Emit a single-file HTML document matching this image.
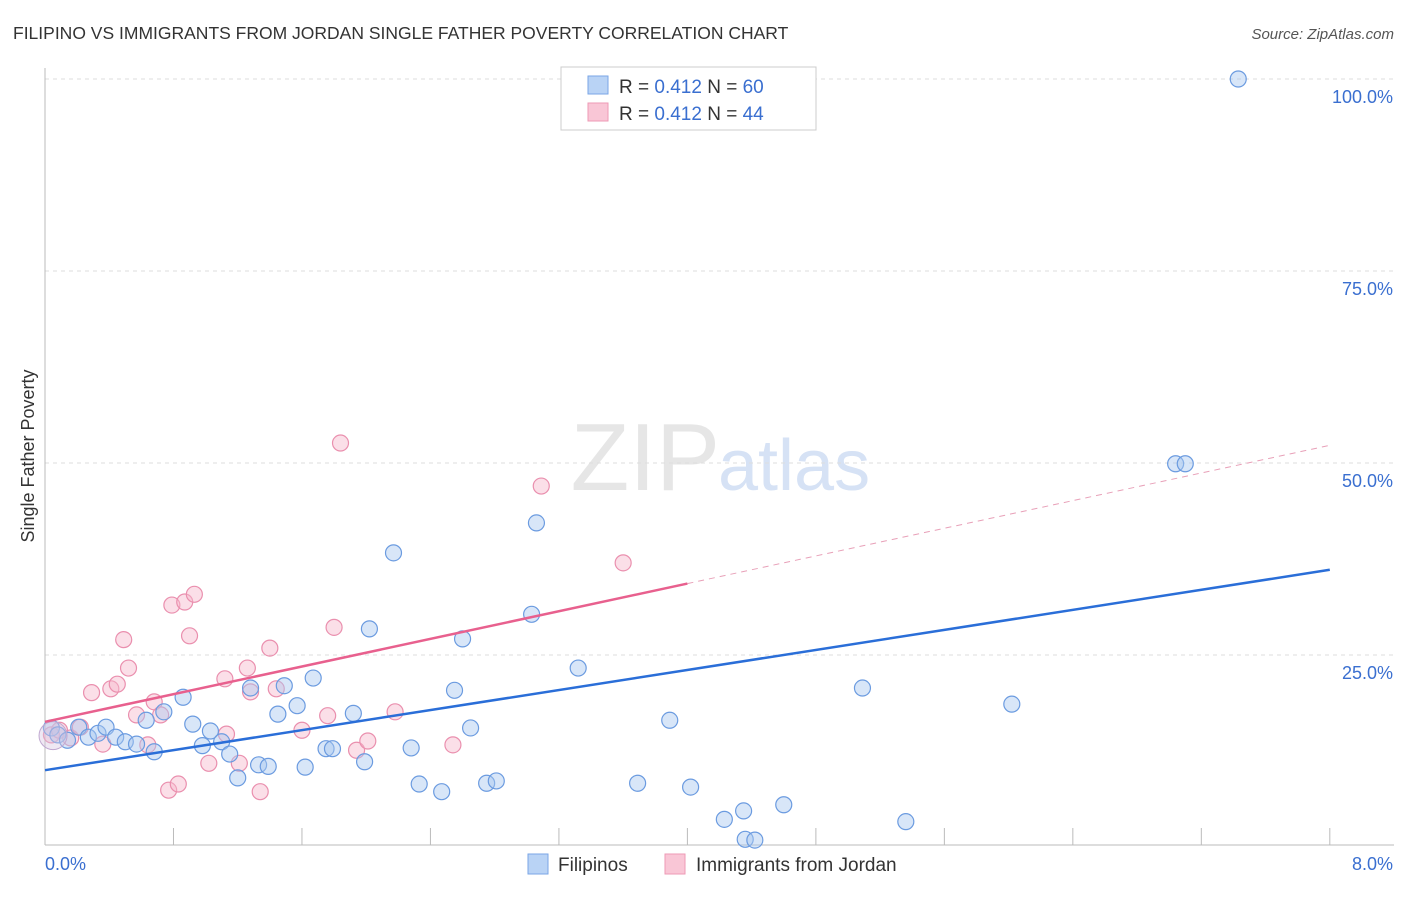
<!DOCTYPE html>
<html><head><meta charset="utf-8"><style>
body{margin:0;background:#fff;font-family:"Liberation Sans",sans-serif;}
svg text{font-family:"Liberation Sans",sans-serif;}
</style></head><body>
<svg id="chart" width="1406" height="892">
<text x="13" y="39" font-size="17.5" fill="#333">FILIPINO VS IMMIGRANTS FROM JORDAN SINGLE FATHER POVERTY CORRELATION CHART</text>
<text x="1394" y="39" font-size="15" fill="#555" font-style="italic" text-anchor="end">Source: ZipAtlas.com</text>
<text x="720" y="490" font-size="96" fill="#e6e6e6" text-anchor="end" font-family="Liberation Serif">ZIP</text>
<text x="718" y="490" font-size="72" fill="#d6e2f5">atlas</text>
<text transform="translate(34,456) rotate(-90)" font-size="18" fill="#333" text-anchor="middle">Single Father Poverty</text>
<g id="grid"></g><g id="axes"></g><g id="marks"></g>
<g>
<rect x="561" y="67" width="255" height="63" fill="#fff" stroke="#ccc"/>
<rect x="588" y="76" width="20" height="18" fill="#b9d3f5" stroke="#7aa6e6"/>
<text x="619" y="93" font-size="19" fill="#333">R = <tspan fill="#3a6fd0">0.412</tspan>   N = <tspan fill="#3a6fd0">60</tspan></text>
<rect x="588" y="103" width="20" height="18" fill="#f9c6d6" stroke="#ee9ab5"/>
<text x="619" y="120" font-size="19" fill="#333">R = <tspan fill="#3a6fd0">0.412</tspan>   N = <tspan fill="#3a6fd0">44</tspan></text>
</g>
<g>
<rect x="528" y="854" width="20" height="20" fill="#b9d3f5" stroke="#7aa6e6"/>
<text x="558" y="871" font-size="19" fill="#333">Filipinos</text>
<rect x="665" y="854" width="20" height="20" fill="#f9c6d6" stroke="#ee9ab5"/>
<text x="696" y="871" font-size="19" fill="#333">Immigrants from Jordan</text>
</g>
</svg>
<script>
const blueX=[0.04,0.08,0.14,0.21,0.27,0.33,0.38,0.44,0.50,0.57,0.63,0.68,0.74,0.86,0.92,0.98,1.03,1.10,1.15,1.20,1.28,1.33,1.39,1.45,1.49,1.57,1.62,1.67,1.75,1.79,1.92,1.99,2.02,2.17,2.28,2.33,2.47,2.55,2.60,2.65,2.75,2.81,3.03,3.06,3.32,3.69,3.89,4.02,4.23,4.35,4.36,4.42,4.60,5.09,5.36,6.02,7.04,7.10,7.43];
const blueY=[15.5,14.6,13.9,15.6,14.3,14.8,15.6,14.3,13.7,13.4,16.5,12.4,17.6,19.5,16.0,13.2,15.1,13.7,12.1,9.0,20.7,10.7,10.5,17.3,21.0,18.4,10.4,22.0,12.8,12.8,17.4,11.1,28.4,38.3,12.9,8.2,7.2,20.4,27.1,15.5,8.3,8.6,30.3,42.2,23.3,8.3,16.5,7.8,3.6,4.7,1.0,0.9,5.5,20.7,3.3,18.6,49.9,49.9,100];
const pinkX=[0.04,0.09,0.16,0.22,0.29,0.36,0.41,0.45,0.49,0.52,0.57,0.64,0.68,0.72,0.77,0.79,0.83,0.87,0.90,0.93,1.02,1.12,1.13,1.21,1.26,1.28,1.34,1.40,1.44,1.60,1.76,1.80,1.84,1.94,2.01,2.18,2.54,3.09,3.60];
const pinkY=[14.6,15.2,14.2,15.6,20.1,13.4,20.6,21.2,27.0,23.3,17.2,13.3,18.9,17.2,7.4,31.5,8.2,31.9,27.5,32.9,10.9,21.9,14.7,10.9,23.3,20.2,7.2,25.9,20.6,15.2,17.1,28.6,52.6,12.6,13.8,17.6,13.3,47.0,37.0];
const blueLine=[10.0,36.1];
const pinkLine=[16.3,52.3];
const pinkSolidEnd=4.0;
const yTicks=[25,50,75,100];
const xTickCount=10;
const NS="http://www.w3.org/2000/svg";
const X=v=>45+v*160.6, Y=v=>847-v*7.68;
function mk(t,a,p){const e=document.createElementNS(NS,t);for(const k in a)e.setAttribute(k,a[k]);p.appendChild(e);return e;}
const grid=document.getElementById('grid'),axes=document.getElementById('axes'),marks=document.getElementById('marks');
yTicks.forEach(t=>{
 const l=mk('line',{x1:45,x2:1394,y1:Y(t),y2:Y(t),stroke:'#ddd','stroke-dasharray':'4,4'},grid);
 
 
 const tx=mk('text',{x:1393,y:Y(t)+24,'font-size':18,fill:'#3a6fd0','text-anchor':'end'},axes);
 tx.textContent=t.toFixed(1)+'%';
 
 
});
mk('line',{x1:45,x2:45,y1:68,y2:845,stroke:'#bbb'},axes);
mk('line',{x1:45,x2:1394,y1:845,y2:845,stroke:'#bbb'},axes);
for(let i=1;i<=xTickCount;i++){const t=mk('line',{x1:X(i*0.8),x2:X(i*0.8),y1:828,y2:845,stroke:'#bbb'},axes);
 
 }
[[0,'0.0%','start',45],[8,'8.0%','end',1393]].forEach(d=>{const t=mk('text',{x:d[3],y:870,'font-size':18,fill:'#3a6fd0','text-anchor':d[2]},axes);t.textContent=d[1];
 
 });
function dots(xs,ys,fill,stroke,name){xs.forEach((x,i)=>{const c=mk('circle',{cx:X(x),cy:Y(ys[i]),r:8,fill:fill,'fill-opacity':0.45,stroke:stroke,'stroke-width':1.2},marks);
 
 });}
dots(pinkX,pinkY,'#f7b8cc','#ea8fae','jordan-point');
dots(blueX,blueY,'#a9c8f0','#6b9be0','filipino-point');
const big=mk('circle',{cx:X(0.05),cy:Y(14.5),r:14,fill:'#d8c5e0','fill-opacity':0.4,stroke:'#c0a8d0'},marks);


const bl=mk('line',{x1:X(0),y1:Y(blueLine[0]),x2:X(8),y2:Y(blueLine[1]),stroke:'#2a6ed8','stroke-width':2.5},marks);


const pm=v=>pinkLine[0]+(pinkLine[1]-pinkLine[0])*v/8;
const pl=mk('line',{x1:X(0),y1:Y(pm(0)),x2:X(pinkSolidEnd),y2:Y(pm(pinkSolidEnd)),stroke:'#e8608e','stroke-width':2.5},marks);


const pd=mk('line',{x1:X(pinkSolidEnd),y1:Y(pm(pinkSolidEnd)),x2:X(8),y2:Y(pm(8)),stroke:'#e8a0b8','stroke-width':1,'stroke-dasharray':'6,5'},marks);


</script>
</body></html>
